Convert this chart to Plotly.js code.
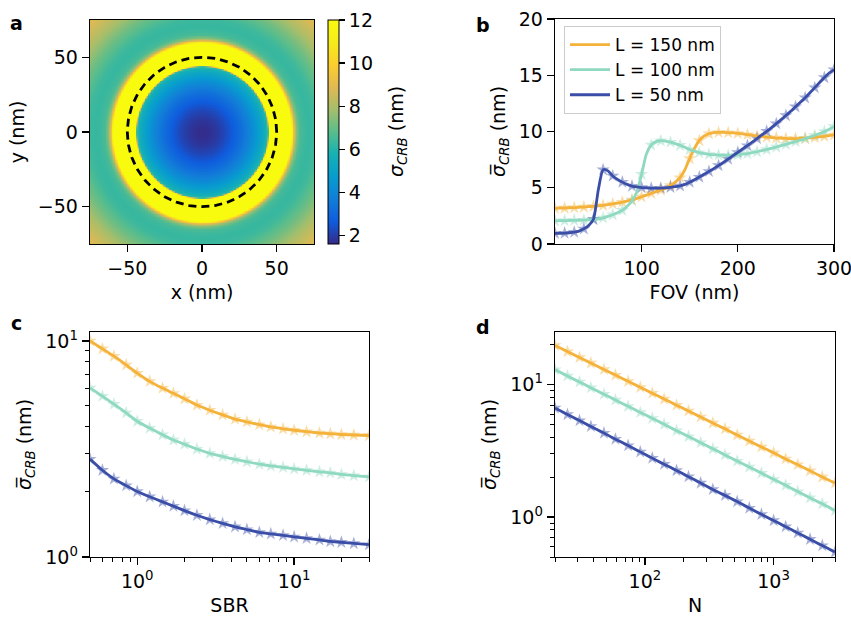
<!DOCTYPE html>
<html>
<head>
<meta charset="utf-8">
<script src="https://cdn.plot.ly/plotly-3.0.1.min.js"></script>
<style>html,body{margin:0;padding:0;background:#fff}#chart{width:851px;height:618px}</style>
</head>
<body>
<div id="chart"></div>
<script>
// ---------- Panel a: radial profile of sigma_CRB (nm) ----------
const profileRadius = [0,2.5,5,7.5,10,12.5,15,17.5,20,22.5,25,27.5,30,32.5,35,37.5,40,42.5,44,45,47.5,50,52.5,55,57.5,59,60,61,62.5,65,67.5,70,72.5,75,77.5,80,82.5,85,87.5,90,92.5,95,97.5,100,102.5,105,107.5];
const profileSigma  = [1.65,1.67,1.72,1.8,1.9,2.05,2.2,2.4,2.6,2.85,3.1,3.4,3.7,4.05,4.4,4.8,5.2,5.7,6.4,13,14,14,14,14,14,12.8,11.2,9.4,7.6,6.6,6.4,6.3,6.3,6.35,6.5,6.7,6.9,7.1,7.35,7.6,7.85,8.1,8.3,8.5,8.7,8.85,9.0];
const mapStep = 1;          // grid spacing of the image (nm)
const mapHalfWidth = 75;    // image half width (nm)
const circleRadius = 50;
const colorbarTicks = [2,4,6,8,10,12];

// ---------- Panel b: sigma vs FOV ----------
const fov = [10,15,20,25,30,35,40,45,50,55,60,65,70,75,80,85,90,95,100,105,110,115,120,125,130,135,140,145,150,155,160,165,170,175,180,185,190,195,200,205,210,215,220,225,230,235,240,245,250,255,260,265,270,275,280,285,290,295,300];
const fovL150 = [3.17,3.18,3.2,3.22,3.24,3.26,3.29,3.32,3.35,3.39,3.44,3.5,3.56,3.63,3.72,3.82,3.93,4.06,4.2,4.35,4.5,4.65,4.8,4.95,5.2,5.5,5.9,6.6,7.6,8.5,9.2,9.6,9.8,9.9,9.92,9.92,9.9,9.87,9.83,9.78,9.72,9.66,9.6,9.55,9.5,9.46,9.42,9.4,9.38,9.37,9.37,9.38,9.4,9.43,9.47,9.52,9.57,9.63,9.7];
const fovL100 = [2.05,2.07,2.08,2.09,2.1,2.11,2.12,2.14,2.17,2.22,2.32,2.45,2.6,2.78,3.0,3.35,3.85,4.6,6.2,8.0,8.8,9.1,9.18,9.15,9.05,8.92,8.78,8.6,8.4,8.25,8.12,8.03,7.97,7.93,7.9,7.88,7.88,7.9,7.93,7.98,8.04,8.12,8.2,8.3,8.4,8.5,8.62,8.74,8.86,8.98,9.1,9.22,9.36,9.5,9.65,9.82,10.0,10.2,10.45];
const fovL50  = [0.95,0.95,0.97,1.0,1.05,1.15,1.35,1.65,2.2,4.8,6.6,6.5,6.05,5.75,5.5,5.3,5.15,5.07,5.02,4.98,4.96,4.95,4.96,4.99,5.04,5.1,5.17,5.3,5.5,5.72,5.95,6.2,6.45,6.7,6.98,7.25,7.55,7.85,8.15,8.45,8.75,9.05,9.37,9.7,10.02,10.35,10.7,11.05,11.42,11.8,12.2,12.6,13.0,13.45,13.9,14.35,14.8,15.2,15.5];

// ---------- Panel c: sigma vs SBR ----------
const sbr = [0.5,0.6,0.71,0.85,1.0,1.2,1.45,1.7,2.0,2.4,2.9,3.5,4.2,5.0,6.0,7.1,8.5,10,12,14.5,17,20,24,30];
const sbrL150 = [10.0,9.2,8.5,7.75,7.1,6.5,6.05,5.72,5.4,5.05,4.78,4.55,4.35,4.22,4.1,4.0,3.92,3.86,3.8,3.75,3.72,3.69,3.67,3.65];
const sbrL100 = [6.06,5.55,5.1,4.65,4.25,3.95,3.68,3.48,3.33,3.16,3.02,2.92,2.83,2.76,2.69,2.64,2.6,2.56,2.52,2.48,2.45,2.41,2.38,2.35];
const sbrL50  = [2.84,2.52,2.3,2.14,2.01,1.9,1.8,1.72,1.64,1.56,1.49,1.43,1.38,1.34,1.3,1.28,1.26,1.24,1.22,1.2,1.18,1.17,1.155,1.14];

// ---------- Panel d: sigma vs N ----------
const photons = [20,25,31,38,48,59,74,92,114,141,176,218,271,337,419,521,647,804,1000,1240,1540,1920,2390,3000];
const nL150 = [19.8,17.79,16.06,14.58,13.04,11.82,10.61,9.56,8.63,7.8,7.01,6.34,5.71,5.14,4.64,4.17,3.76,3.39,3.06,2.75,2.49,2.24,2.01,1.81];
const nL100 = [13.0,11.65,10.49,9.5,8.48,7.67,6.87,6.18,5.57,5.02,4.5,4.06,3.65,3.28,2.95,2.65,2.39,2.15,1.93,1.74,1.56,1.4,1.26,1.12];
const nL50  = [6.67,5.96,5.36,4.84,4.31,3.88,3.47,3.11,2.79,2.51,2.25,2.02,1.81,1.62,1.46,1.31,1.17,1.05,0.943,0.847,0.76,0.681,0.61,0.545];

const seriesNames = ['L = 150 nm','L = 100 nm','L = 50 nm'];
const seriesColors = ['#F4B23A','#8ED9BF','#3A4EA8'];
const logTickVals = [1,10];
const logTickText = ['10<sup>0</sup>','10<sup>1</sup>'];
const nTickVals = [100,1000];
const nTickText = ['10<sup>2</sup>','10<sup>3</sup>'];
const dTickValsY = [1,10];
const dTickTextY = ['10<sup>0</sup>','10<sup>1</sup>'];
const panelLabels = ['a','b','c','d'];
const colorbarTitle = '<i>σ</i><sub><i>CRB</i></sub> (nm)';

// parula-like colorscale
const parula = [
  [0.0,'rgb(53,42,135)'],[0.1,'rgb(15,92,221)'],[0.2,'rgb(18,125,216)'],
  [0.3,'rgb(7,156,207)'],[0.4,'rgb(21,177,180)'],[0.5,'rgb(89,189,140)'],
  [0.6,'rgb(165,190,107)'],[0.7,'rgb(225,185,82)'],[0.8,'rgb(252,206,46)'],
  [0.9,'rgb(245,236,27)'],[1.0,'rgb(249,251,14)']
];

// image grid: radial profile rendered over the square
const mapCoords = [];
for (let v = -mapHalfWidth; v <= mapHalfWidth + 1e-9; v += mapStep) mapCoords.push(v);
function profileAt(r) {
  for (let i = 1; i < profileRadius.length; i++) {
    if (r <= profileRadius[i]) {
      const t = (r - profileRadius[i-1]) / (profileRadius[i] - profileRadius[i-1]);
      return profileSigma[i-1] + t * (profileSigma[i] - profileSigma[i-1]);
    }
  }
  return profileSigma[profileSigma.length - 1];
}
const z = mapCoords.map(yv => mapCoords.map(xv => profileAt(Math.sqrt(xv*xv + yv*yv))));

const FONT = 'DejaVu Sans, sans-serif';
const FS = 19;
const traces = [];
traces.push({
  type:'heatmap', x: mapCoords, y: mapCoords, z: z, zsmooth:'best',
  colorscale: parula, zmin:1.6, zmax:12, xaxis:'x', yaxis:'y', showscale:true, hoverinfo:'skip',
  colorbar:{x:328/851, xanchor:'left', xpad:0, ypad:0, y:1-20/618, yanchor:'top', len:224/618, lenmode:'fraction',
    thickness:11, outlinewidth:1, outlinecolor:'#000', tickvals: colorbarTicks,
    ticks:'outside', ticklen:6, tickwidth:1.2, tickcolor:'#000',
    tickfont:{size:FS, family:FONT, color:'#000'}}
});
// dashed circle (built from the radius)
const circT = [];
for (let k = 0; k <= 360; k += 2) circT.push(k*Math.PI/180);
traces.push({type:'scatter', mode:'lines', x: circT.map(t=>circleRadius*Math.cos(t)), y: circT.map(t=>circleRadius*Math.sin(t)),
  line:{color:'#000', width:2.8, dash:'8px,5px'}, xaxis:'x', yaxis:'y', showlegend:false, hoverinfo:'skip'});

function addSeries(xs, ysList, xa, ya, legend) {
  ysList.forEach((ys, i) => {
    const mx = [], my = [];
    xs.forEach((v, j) => { if (legend ? j % 2 === 0 : true) { mx.push(v); my.push(ys[j]); } });
    traces.push({type:'scatter', mode:'markers', x: mx, y: my, xaxis: xa, yaxis: ya, showlegend:false,
      marker:{symbol:'star', size:10, color: seriesColors[i], opacity:0.45, line:{width:0}}, hoverinfo:'skip'});
  });
  ysList.forEach((ys, i) => {
    traces.push({type:'scatter', mode:'lines', x: xs, y: ys, xaxis: xa, yaxis: ya, name: seriesNames[i],
      showlegend: !!legend, line:{color: seriesColors[i], width:2.8, shape:'spline', smoothing:0.6}});
  });
}
addSeries(fov, [fovL150, fovL100, fovL50], 'x2', 'y2', true);
addSeries(sbr, [sbrL150, sbrL100, sbrL50], 'x3', 'y3', false);
addSeries(photons, [nL150, nL100, nL50], 'x4', 'y4', false);

const baseAxis = {
  showline:true, mirror:true, linecolor:'#000', linewidth:1.3, ticks:'outside', ticklen:7, tickwidth:1.3,
  tickcolor:'#000', showgrid:false, zeroline:false, tickfont:{size:FS, family:FONT, color:'#000'},
  ticklabeloverflow:'allow'
};
const ttl = (t, s) => ({text:t, standoff: s, font:{size:FS, family:FONT, color:'#000'}});
const sigTitle = '<i>σ̅</i><sub><i>CRB</i></sub> (nm)';
const minorLog = (vals) => ({ticks:'outside', ticklen:3.5, tickwidth:1, tickcolor:'#000', tickmode:'array', tickvals: vals, showgrid:false});

const layout = {
  width:851, height:618, margin:{l:0,r:0,t:0,b:0}, paper_bgcolor:'#fff', plot_bgcolor:'#fff',
  font:{family:FONT, color:'#000'}, showlegend:true,
  xaxis: Object.assign({}, baseAxis, {domain:[90/851, 314/851], range:[-75,75], tickvals:[-50,0,50], title:ttl('x (nm)', 7), anchor:'y'}),
  yaxis: Object.assign({}, baseAxis, {domain:[1-244/618, 1-20/618], range:[-75,75], tickvals:[-50,0,50], title:ttl('y (nm)', 8), anchor:'x'}),
  xaxis2: Object.assign({}, baseAxis, {domain:[555/851, 834/851], range:[10,300], tickvals:[100,200,300], title:ttl('FOV (nm)', 7), anchor:'y2'}),
  yaxis2: Object.assign({}, baseAxis, {domain:[1-244/618, 1-19/618], range:[0,20], tickvals:[0,5,10,15,20], title:ttl(sigTitle, 8), anchor:'x2'}),
  xaxis3: Object.assign({}, baseAxis, {domain:[90/851, 369/851], type:'log', range:[Math.log10(0.5), Math.log10(30)],
    tickvals: logTickVals, ticktext: logTickText, title:ttl('SBR', 7), anchor:'y3',
    minor: minorLog([0.5,0.6,0.7,0.8,0.9,2,3,4,5,6,7,8,9,20,30])}),
  yaxis3: Object.assign({}, baseAxis, {domain:[1-557/618, 1-332/618], type:'log', range:[0, Math.log10(11)],
    tickvals: logTickVals, ticktext: logTickText, title:ttl(sigTitle, 8), anchor:'x3',
    minor: minorLog([2,3,4,5,6,7,8,9])}),
  xaxis4: Object.assign({}, baseAxis, {domain:[555/851, 835/851], type:'log', range:[Math.log10(20), Math.log10(3000)],
    tickvals: nTickVals, ticktext: nTickText, title:ttl('N', 7), anchor:'y4',
    minor: minorLog([20,30,40,50,60,70,80,90,200,300,400,500,600,700,800,900,2000,3000])}),
  yaxis4: Object.assign({}, baseAxis, {domain:[1-557/618, 1-332/618], type:'log', range:[Math.log10(0.5), Math.log10(25)],
    tickvals: dTickValsY, ticktext: dTickTextY, title:ttl(sigTitle, 8), anchor:'x4',
    minor: minorLog([0.5,0.6,0.7,0.8,0.9,2,3,4,5,6,7,8,9,20])}),
  legend:{x:564/851, y:1-26/618, xanchor:'left', yanchor:'top', bgcolor:'rgba(255,255,255,0.9)',
    bordercolor:'#cccccc', borderwidth:1, font:{size:17, family:FONT, color:'#000'}, itemwidth:40, tracegroupgap:0},
  annotations: [
    {text:'<b>'+panelLabels[0]+'</b>', x:16/851, y:1-23/618},
    {text:'<b>'+panelLabels[1]+'</b>', x:483/851, y:1-25/618},
    {text:'<b>'+panelLabels[2]+'</b>', x:16/851, y:1-323/618},
    {text:'<b>'+panelLabels[3]+'</b>', x:483/851, y:1-327/618}
  ].map(a => Object.assign(a, {xref:'paper', yref:'paper', showarrow:false, xanchor:'center', yanchor:'middle',
    font:{size:19, family:FONT, color:'#000'}})).concat([
    {text: colorbarTitle, xref:'paper', yref:'paper', x:397/851, y:1-132/618, textangle:-90, showarrow:false,
     xanchor:'center', yanchor:'middle', font:{size:FS, family:FONT, color:'#000'}}
  ])
};

Plotly.newPlot('chart', traces, layout, {displayModeBar:false, staticPlot:true});
</script>
</body>
</html>
